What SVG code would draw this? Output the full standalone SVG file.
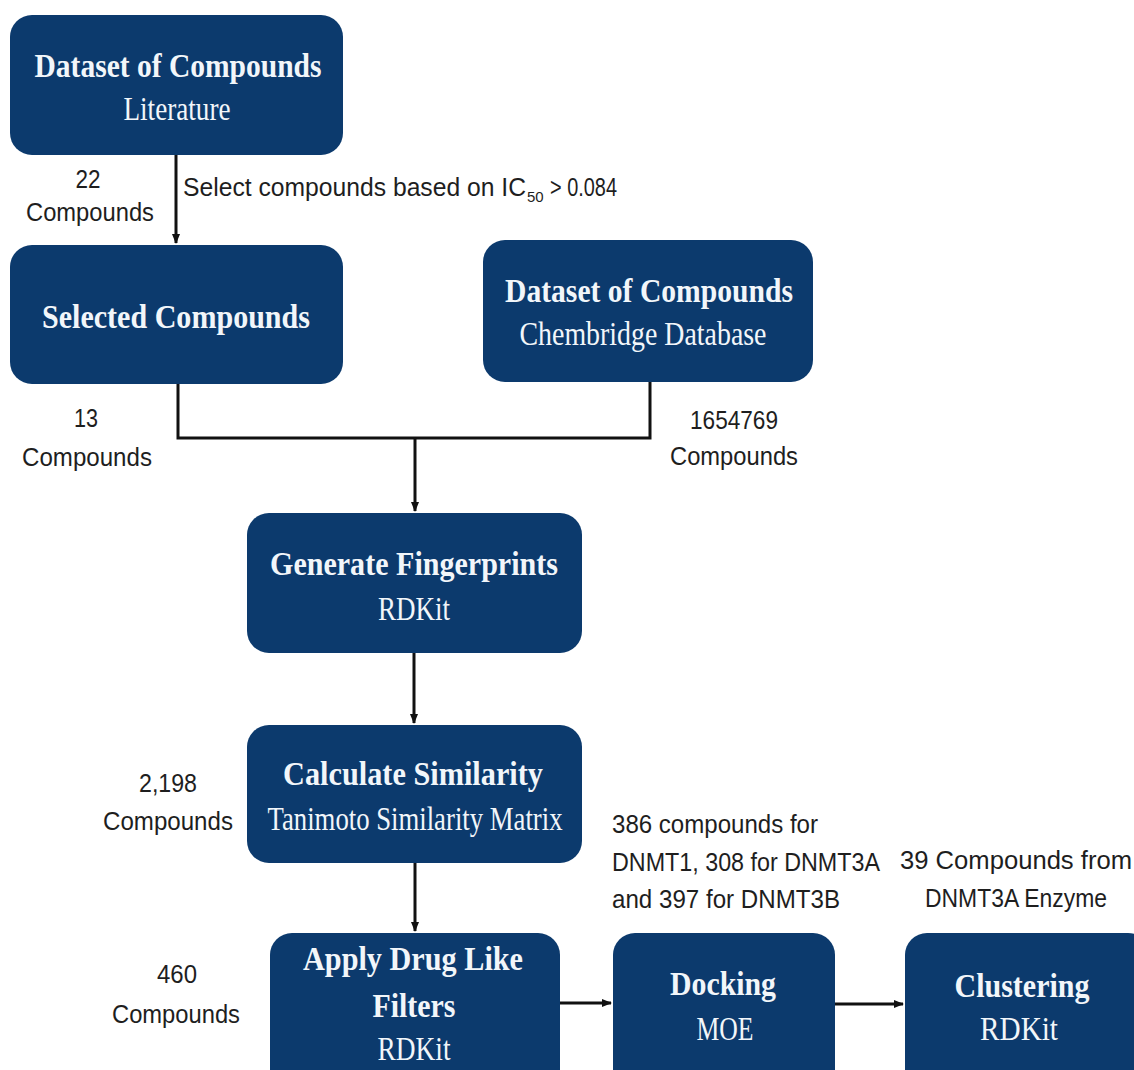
<svg xmlns="http://www.w3.org/2000/svg" width="1134" height="1070" viewBox="0 0 1134 1070">
<style>
.box{fill:#0c3a6d;}
.t{font-family:"Liberation Serif","Times New Roman",serif;font-weight:bold;font-size:34px;fill:#f2f6fa;text-anchor:middle;}
.s{font-family:"Liberation Serif","Times New Roman",serif;font-size:33px;fill:#f2f6fa;text-anchor:middle;}
.l{font-family:"Liberation Sans",Arial,sans-serif;font-size:26px;fill:#1e1e1e;}
.c{text-anchor:middle;}
.ln{fill:none;stroke:#111;stroke-width:3;}
</style>
<defs>
<marker id="ah" markerWidth="10" markerHeight="10" refX="9" refY="5" orient="auto" markerUnits="userSpaceOnUse">
<path d="M0,1 L10,5 L0,9 Z" fill="#111"/>
</marker>
</defs>
<rect width="1134" height="1070" fill="#ffffff"/>

<g id="connectors">
<path class="ln" d="M176 155 V243" marker-end="url(#ah)"/>
<path class="ln" d="M178 384 V438 H650 V382"/>
<path class="ln" d="M415 438 V511" marker-end="url(#ah)"/>
<path class="ln" d="M414 653 V723" marker-end="url(#ah)"/>
<path class="ln" d="M415 863 V931" marker-end="url(#ah)"/>
<path class="ln" d="M560 1003 H611" marker-end="url(#ah)"/>
<path class="ln" d="M835 1004 H903" marker-end="url(#ah)"/>
</g>

<g id="node-literature">
<rect class="box" x="10" y="15" width="333" height="140" rx="22"/>
<text class="t" x="178" y="77" textLength="287" lengthAdjust="spacingAndGlyphs">Dataset of Compounds</text>
<text class="s" x="177" y="120" textLength="107" lengthAdjust="spacingAndGlyphs">Literature</text>
</g>

<g id="node-selected">
<rect class="box" x="10" y="245" width="333" height="139" rx="22"/>
<text class="t" x="176" y="328" textLength="268" lengthAdjust="spacingAndGlyphs">Selected Compounds</text>
</g>

<g id="node-chembridge">
<rect class="box" x="483" y="240" width="330" height="142" rx="22"/>
<text class="t" x="649" y="302" textLength="288" lengthAdjust="spacingAndGlyphs">Dataset of Compounds</text>
<text class="s" x="643" y="345" textLength="247" lengthAdjust="spacingAndGlyphs">Chembridge Database</text>
</g>

<g id="node-fingerprints">
<rect class="box" x="247" y="513" width="335" height="140" rx="22"/>
<text class="t" x="414" y="575" textLength="288" lengthAdjust="spacingAndGlyphs">Generate Fingerprints</text>
<text class="s" x="414" y="620" textLength="72" lengthAdjust="spacingAndGlyphs">RDKit</text>
</g>

<g id="node-similarity">
<rect class="box" x="247" y="725" width="335" height="138" rx="22"/>
<text class="t" x="413" y="785" textLength="260" lengthAdjust="spacingAndGlyphs">Calculate Similarity</text>
<text class="s" x="415" y="830" textLength="295" lengthAdjust="spacingAndGlyphs">Tanimoto Similarity Matrix</text>
</g>

<g id="node-filters">
<rect class="box" x="270" y="933" width="290" height="160" rx="22"/>
<text class="t" x="413" y="970" textLength="220" lengthAdjust="spacingAndGlyphs">Apply Drug Like</text>
<text class="t" x="414" y="1017" textLength="83" lengthAdjust="spacingAndGlyphs">Filters</text>
<text class="s" x="414" y="1060" textLength="73" lengthAdjust="spacingAndGlyphs">RDKit</text>
</g>

<g id="node-docking">
<rect class="box" x="613" y="933" width="222" height="160" rx="22"/>
<text class="t" x="723" y="995" textLength="106" lengthAdjust="spacingAndGlyphs">Docking</text>
<text class="s" x="725" y="1040" textLength="57" lengthAdjust="spacingAndGlyphs">MOE</text>
</g>

<g id="node-clustering">
<rect class="box" x="905" y="933" width="245" height="160" rx="22"/>
<text class="t" x="1022" y="997" textLength="135" lengthAdjust="spacingAndGlyphs">Clustering</text>
<text class="s" x="1019" y="1040" textLength="78" lengthAdjust="spacingAndGlyphs">RDKit</text>
</g>

<g id="labels">
<text class="l c" x="88" y="188" textLength="25" lengthAdjust="spacingAndGlyphs">22</text>
<text class="l c" x="90" y="221" textLength="128" lengthAdjust="spacingAndGlyphs">Compounds</text>
<text class="l" x="183" y="196"><tspan textLength="343" lengthAdjust="spacingAndGlyphs">Select compounds based on IC</tspan><tspan x="527" dy="6" font-size="15">50</tspan><tspan x="550" dy="-6" textLength="67" lengthAdjust="spacingAndGlyphs">&gt; 0.084</tspan></text>
<text class="l c" x="86" y="427" textLength="24" lengthAdjust="spacingAndGlyphs">13</text>
<text class="l c" x="87" y="466" textLength="130" lengthAdjust="spacingAndGlyphs">Compounds</text>
<text class="l c" x="734" y="429" textLength="88" lengthAdjust="spacingAndGlyphs">1654769</text>
<text class="l c" x="734" y="465" textLength="128" lengthAdjust="spacingAndGlyphs">Compounds</text>
<text class="l c" x="168" y="792" textLength="58" lengthAdjust="spacingAndGlyphs">2,198</text>
<text class="l c" x="168" y="830" textLength="130" lengthAdjust="spacingAndGlyphs">Compounds</text>
<text class="l c" x="177" y="983" textLength="40" lengthAdjust="spacingAndGlyphs">460</text>
<text class="l c" x="176" y="1023" textLength="128" lengthAdjust="spacingAndGlyphs">Compounds</text>
<text class="l" x="612" y="833" textLength="206" lengthAdjust="spacingAndGlyphs">386 compounds for</text>
<text class="l" x="612" y="871" textLength="268" lengthAdjust="spacingAndGlyphs">DNMT1, 308 for DNMT3A</text>
<text class="l" x="612" y="908" textLength="228" lengthAdjust="spacingAndGlyphs">and 397 for DNMT3B</text>
<text class="l" x="900" y="869" textLength="232" lengthAdjust="spacingAndGlyphs">39 Compounds from</text>
<text class="l c" x="1016" y="907" textLength="182" lengthAdjust="spacingAndGlyphs">DNMT3A Enzyme</text>
</g>
</svg>
